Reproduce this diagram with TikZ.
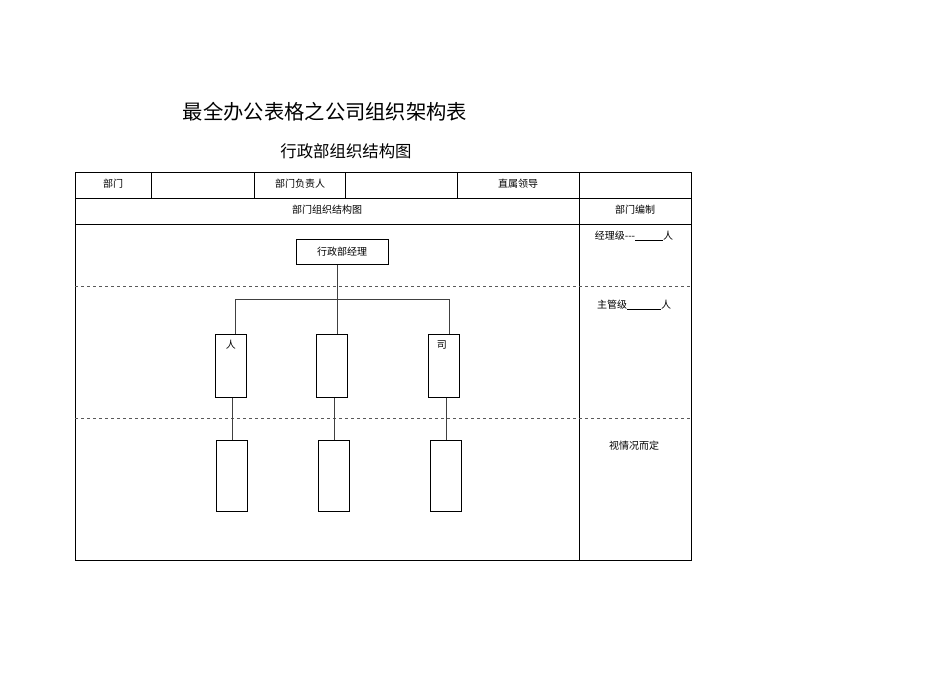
\documentclass[tikz,border=0pt]{standalone}
\usepackage{fontspec}
\setmainfont{Noto Sans CJK SC}
\begin{document}
\begin{tikzpicture}[x=1pt,y=-1pt,
  cell/.style={font=\fontsize{10}{12}\selectfont},
  box/.style={draw,thick,minimum width=31pt,inner sep=0pt,anchor=north west},
  dashline/.style={draw,dashed,gray!70!black,thick},
  conn/.style={draw,gray!50!black}]
\useasboundingbox (0,0) rectangle (950,672);
\node at (325,112) {\fontsize{20.3}{22}\selectfont 最全办公表格之公司组织架构表};
\node at (346,151) {\fontsize{16.4}{18}\selectfont 行政部组织结构图};
% table
\draw (75,172) rectangle (691,560);
\draw (75,198) -- (691,198);
\draw (75,224) -- (691,224);
\foreach \x in {151,254,345,457} \draw (\x,172) -- (\x,198);
\draw (579,172) -- (579,560);
\draw[dashline] (75,286) -- (691,286);
\draw[dashline] (75,418) -- (691,418);
\node[cell] at (113,184) {部门};
\node[cell] at (300,184) {部门负责人};
\node[cell] at (518,184) {直属领导};
\node[cell] at (327,210) {部门组织结构图};
\node[cell] at (635,210) {部门编制};
\node[cell] at (634,236) {经理级{-}{-}{-}\underline{\hspace{28pt}}人};
\node[cell] at (634,305) {主管级\underline{\hspace{34pt}}人};
\node[cell] at (634,446) {视情况而定};
% org chart
\node[draw,thick,minimum width=92pt,minimum height=25pt,inner sep=0pt,cell] (m) at (342,252) {行政部经理};
\coordinate (j) at (337,299);
\coordinate (L) at (235,299);
\coordinate (R) at (449,299);
\node[box,minimum height=63pt] (a) at (215,334) {};
\node[box,minimum height=63pt] (b) at (316,334) {};
\node[box,minimum height=63pt] (c) at (428,334) {};
\node[cell] at (a.north) [below=3pt] {人};
\node[cell] at (c.north) [below=3pt,xshift=-2pt] {司};
\node[box,minimum height=71pt] (a2) at (216,440) {};
\node[box,minimum height=71pt] (b2) at (318,440) {};
\node[box,minimum height=71pt] (c2) at (430,440) {};
\draw[conn] (m.south -| j) -- (j);
\draw[conn] (L) -- (R);
\draw[conn] (L) -- (L |- a.north);
\draw[conn] (R) -- (R |- c.north);
\draw[conn] (j) -- (j |- b.north);
\draw[conn] (a2.north |- a.south) -- (a2.north);
\draw[conn] (b2.north |- b.south) -- (b2.north);
\draw[conn] (c2.north |- c.south) -- (c2.north);
\end{tikzpicture}
\end{document}
